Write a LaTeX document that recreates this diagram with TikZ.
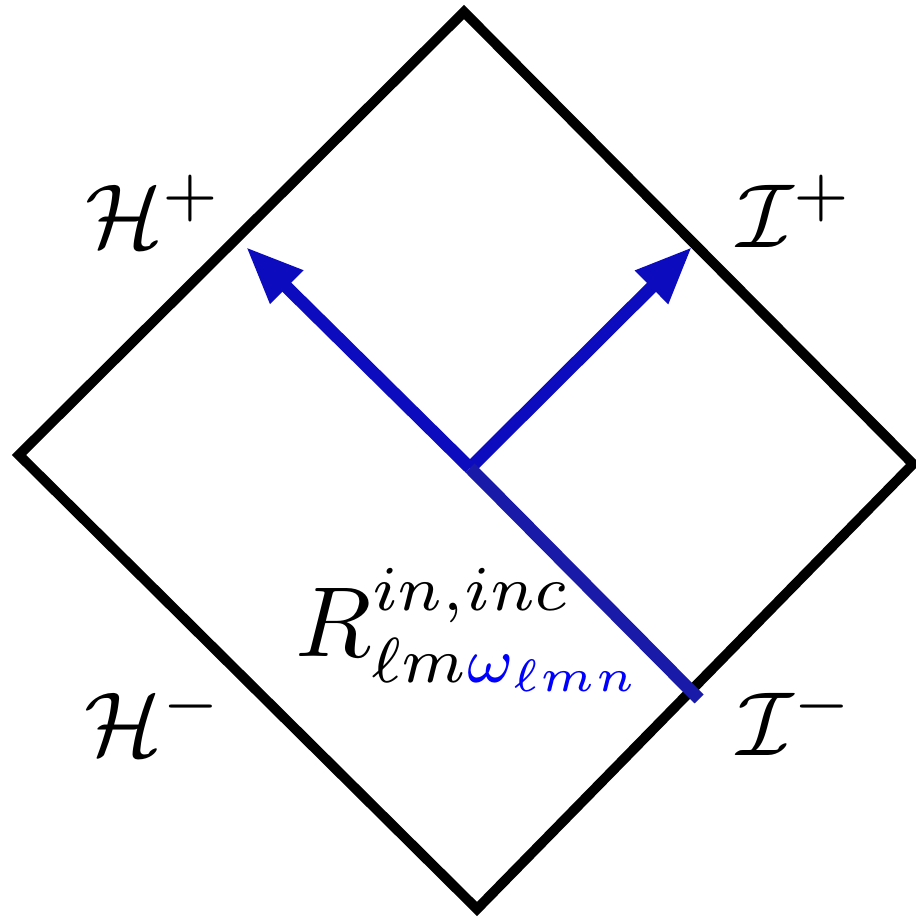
\documentclass[tikz,border=0pt]{standalone}
\usepackage{amsmath}
\usepackage{amssymb}
\usepackage{xcolor}
\usepackage{tikz}
\usetikzlibrary{arrows.meta}

\definecolor{raycol}{RGB}{12,12,190}
\definecolor{incol}{RGB}{26,26,168}

\begin{document}
\begin{tikzpicture}[
        x=0.11pt, y=-0.11pt,
        font=\normalsize,
        edge/.style={draw=black, line width=1.1pt, line join=miter},
        ray/.style={draw=raycol, line width=1.4pt,
            -{Triangle[length=6.3pt, width=4.8pt]}},
        incoming/.style={draw=incol, line width=1.4pt},
        scri/.style={inner sep=0pt}
    ]
        \useasboundingbox (0,0) rectangle (916,920);

        % Penrose diamond.
        \coordinate (top) at (464,12);
        \coordinate (left) at (19,455);
        \coordinate (bottom) at (477,909);
        \coordinate (right) at (913,464);
        \draw[edge] (top) -- (right) -- (bottom) -- (left) -- cycle;

        % Boundary labels.
        \node[scri] (hplus) at (154,211) {$\mathcal{H}^+$};
        \node[scri] (iplus) at (796,211) {$\mathcal{I}^+$};
        \node[scri] (hminus) at (154,719) {$\mathcal{H}^-$};
        \node[scri] (iminus) at (796,719) {$\mathcal{I}^-$};

        % Incoming ray, split into reflected and transmitted parts.
        \coordinate (source) at (699,699);
        \coordinate (split) at (470,468);
        \coordinate (tiph) at (246,247);
        \coordinate (tipi) at (692,247);
        \draw[ray] (split) -- (tiph);
        \draw[ray] (split) -- (tipi);
        \draw[incoming] (source) -- (split);

        \node[scri, font=\fontsize{10.5}{12}\selectfont] (radial) at (470,630)
            {$R^{in,inc}_{\ell m\textcolor{blue}{\omega_{\ell mn}}}$};
    \end{tikzpicture}
\end{document}
